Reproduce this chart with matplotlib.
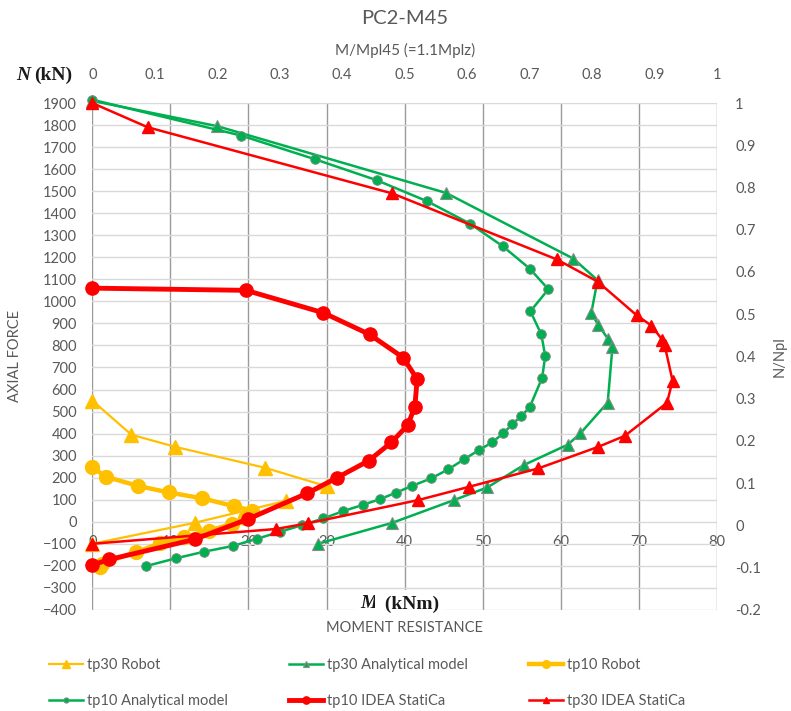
import matplotlib.pyplot as plt

# M (kNm) / N (kN)
tp30_robot_m = [0, 5.0, 10.6, 22.1, 30.1, 24.8, 13.1, 0]
tp30_robot_n = [550, 395, 340, 245, 160, 95, -5, -100]

tp30_analytical_m = [0, 16.0, 45.3, 61.6, 64.7, 63.9, 64.8, 66.1, 66.6, 66.0, 62.5, 60.9, 55.3, 50.6, 46.3, 38.4, 28.9]
tp30_analytical_n = [1910, 1795, 1492, 1194, 1096, 948, 892, 827, 791, 541, 401, 350, 258, 156, 98, -5, -100]

tp10_robot_m = [0, 1.75, 5.9, 9.8, 14.1, 18.1, 20.5, 19.6, 17.9, 14.9, 11.7, 8.7, 5.6, 1.2, 1.0]
tp10_robot_n = [247, 204, 162, 133, 106, 71, 50, 18, -10, -40, -70, -98, -138, -190, -205]

tp10_analytical_m = [0, 19.1, 28.5, 36.4, 42.9, 48.4, 52.6, 56.0, 58.4, 56.1, 57.5, 58.0, 57.6, 56.0, 54.9,
                     53.8, 52.6, 51.2, 49.5, 47.6, 45.6, 43.4, 40.9, 38.9, 36.8, 34.6, 32.1, 29.6, 26.9,
                     24.0, 21.1, 18.0, 14.3, 10.7, 6.9]
tp10_analytical_n = [1915, 1752, 1645, 1550, 1454, 1352, 1249, 1149, 1055, 955, 850, 751, 653, 519, 479,
                     443, 401, 360, 325, 283, 238, 197, 162, 132, 102, 76, 48, 15, -15,
                     -46, -77, -110, -136, -166, -201]

tp10_idea_m = [0, 19.7, 29.6, 35.5, 39.8, 41.6, 41.3, 40.4, 38.3, 35.4, 31.3, 27.5, 20.0, 13.1, 2.2, 0]
tp10_idea_n = [1060, 1050, 948, 850, 745, 647, 522, 439, 360, 277, 199, 129, 13, -80, -171, -196]

tp30_idea_m = [0, 7.1, 38.4, 59.5, 64.7, 69.7, 71.6, 73.0, 73.3, 74.3, 73.6, 68.2, 64.8, 57.1, 48.3, 41.7, 27.6, 23.5, 0]
tp30_idea_n = [1900, 1790, 1490, 1190, 1090, 937, 890, 825, 800, 640, 540, 390, 340, 242, 159, 98, -7, -33, -100]

x_ticks = [0, 10, 20, 30, 40, 50, 60, 70, 80]
y_ticks = list(range(-400, 2000, 100))
top_ticks = [0, 0.1, 0.2, 0.3, 0.4, 0.5, 0.6, 0.7, 0.8, 0.9, 1]
top_labels = ['0', '0.1', '0.2', '0.3', '0.4', '0.5', '0.6', '0.7', '0.8', '0.9', '1']
right_ticks = [-0.2, -0.1, 0, 0.1, 0.2, 0.3, 0.4, 0.5, 0.6, 0.7, 0.8, 0.9, 1]
right_labels = ['-0.2', '-0.1', '0', '0.1', '0.2', '0.3', '0.4', '0.5', '0.6', '0.7', '0.8', '0.9', '1']

GREY = '#595959'
YELLOW = '#FFC000'
GREEN = '#00B050'
RED = '#FF0000'

W, H = 791, 711


def px(x, y):
    # pixel position -> figure fraction
    return x / W, 1 - y / H


def plot_interaction():
    plt.rcParams['font.family'] = ['Lato', 'DejaVu Sans']
    fig = plt.figure(figsize=(W / 100, H / 100), dpi=100)
    ax = fig.add_axes([0.1167, 0.1422, 0.7898, 0.7129])

    lines = []
    lines += ax.plot(tp30_robot_m, tp30_robot_n, color=YELLOW, lw=1.6, marker='^', ms=10, label='tp30 Robot')
    lines += ax.plot(tp30_analytical_m, tp30_analytical_n, color=GREEN, lw=1.8, marker='^', ms=9,
                     mec='#8a8a8a', mew=0.8, label='tp30 Analytical model')
    lines += ax.plot(tp10_robot_m, tp10_robot_n, color=YELLOW, lw=3.2, marker='o', ms=10, label='tp10 Robot')
    lines += ax.plot(tp10_analytical_m, tp10_analytical_n, color=GREEN, lw=1.8, marker='o', ms=7,
                     mec='#8a8a8a', mew=0.6, label='tp10 Analytical model')
    lines += ax.plot(tp10_idea_m, tp10_idea_n, color=RED, lw=3.5, marker='o', ms=9.5, label='tp10 IDEA StatiCa')
    lines += ax.plot(tp30_idea_m, tp30_idea_n, color=RED, lw=1.8, marker='^', ms=8, label='tp30 IDEA StatiCa')
    for ln in lines:
        ln.set_clip_on(False)

    ax.set_xlim(0, 80)
    ax.set_ylim(-400, 1900)
    ax.set_xticks(x_ticks)
    ax.set_yticks(y_ticks)
    ax.set_axisbelow(True)
    for s in ax.spines.values():
        s.set_visible(False)
    ax.spines['bottom'].set_position(('data', -100))
    ax.xaxis.grid(True, color='#9a9a9a', lw=1.0)
    ax.yaxis.grid(True, color='#d9d9d9', lw=1.0)
    ax.tick_params(axis='x', length=0, pad=-6, labelsize=10.5, labelcolor=GREY)
    ax.tick_params(axis='y', length=0, pad=11, labelsize=10.5, labelcolor=GREY)

    # top axis M/Mpl45
    top = ax.secondary_xaxis('top', functions=(lambda m: m / 80, lambda r: r * 80))
    top.set_xticks(top_ticks)
    top.set_xticklabels(top_labels)
    top.tick_params(length=0, pad=15, labelsize=10.5, labelcolor=GREY)
    top.spines['top'].set_visible(False)

    # right axis N/Npl
    right = ax.twinx()
    right.set_ylim(-0.2, 1.0)
    right.set_yticks(right_ticks)
    right.set_yticklabels(right_labels)
    right.tick_params(length=0, pad=13, labelsize=10.5, labelcolor=GREY)
    for s in right.spines.values():
        s.set_visible(False)

    fig.text(*px(405, 18), 'PC2-M45', ha='center', va='center', fontsize=14.5, color=GREY)
    fig.text(*px(405, 50), 'M/Mpl45 (=1.1Mplz)', ha='center', va='center', fontsize=11, color=GREY)
    fig.text(*px(16, 75), 'N', ha='left', va='center', fontsize=14, fontweight='bold',
             style='italic', family='Liberation Serif', color='#1a1a1a')
    fig.text(*px(34, 75), '(kN)', ha='left', va='center', fontsize=14, fontweight='bold',
             family='Liberation Serif', color='#1a1a1a')
    fig.text(*px(15, 356), 'AXIAL FORCE', ha='center', va='center', rotation=90, fontsize=10.5, color=GREY)
    fig.text(*px(780, 357), 'N/Npl', ha='center', va='center', rotation=90, fontsize=10.5, color=GREY)
    fig.text(*px(405, 628), 'MOMENT RESISTANCE', ha='center', va='center', fontsize=10.5, color=GREY)
    fig.text(*px(360, 604), 'M', ha='left', va='center', fontsize=14, fontweight='bold', style='italic',
             family='Liberation Serif', color='#1a1a1a',
             bbox=dict(boxstyle='square,pad=0.25', fc='white', ec='none'))
    fig.text(*px(380, 604), ' (kNm)', ha='left', va='center', fontsize=14, fontweight='bold',
             family='Liberation Serif', color='#1a1a1a',
             bbox=dict(boxstyle='square,pad=0.25', fc='white', ec='none'))

    order = [0, 3, 1, 4, 2, 5]
    leg = fig.legend([lines[i] for i in order], [lines[i].get_label() for i in order],
                     ncol=3, loc='upper left', bbox_to_anchor=px(36, 645), frameon=False,
                     fontsize=10.5, markerscale=0.55, handlelength=2.3, handletextpad=0.3,
                     columnspacing=4.2, labelspacing=1.5)
    for t in leg.get_texts():
        t.set_color(GREY)

    fig.savefig('out.png', dpi=100)


if __name__ == "__main__":
    plot_interaction()
